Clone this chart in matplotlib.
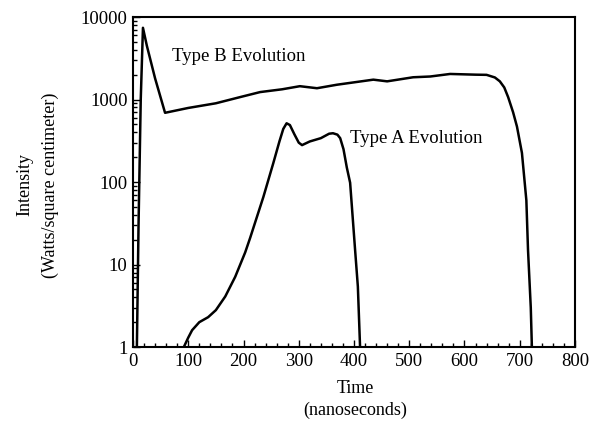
import matplotlib.pyplot as plt
from matplotlib.ticker import LogLocator, MultipleLocator, FixedLocator, NullFormatter

plt.rcParams["font.family"] = ["Liberation Serif", "DejaVu Serif"]

# Type B evolution (ns, W/cm^2)
type_b_t = [7, 10, 14, 18, 25, 40, 58, 100, 150, 194, 230, 270, 302, 333, 369,
            435, 460, 507, 538, 574, 620, 640, 655, 664, 672, 679, 688, 695, 704, 712, 715, 720, 722]
type_b_i = [1, 30, 1000, 7400, 4500, 1800, 690, 790, 900, 1070, 1230, 1330, 1450, 1370, 1510,
            1740, 1660, 1860, 1900, 2040, 2000, 1990, 1850, 1660, 1400, 1070, 700, 470, 225, 60, 15, 3, 1]

# Type A evolution
type_a_t = [92, 100, 107, 120, 136, 150, 167, 185, 203, 212, 236, 254, 265, 272, 278, 284, 292, 300, 306, 320,
            340, 355, 362, 370, 375, 381, 387, 393, 402, 407, 411]
type_a_i = [1, 1.3, 1.6, 2.0, 2.3, 2.8, 4.1, 7.1, 14, 21, 66, 170, 310, 440, 515, 490, 380, 300, 280, 310,
            340, 385, 390, 375, 340, 250, 150, 98, 15, 5.4, 1]

x_ticks = [0, 100, 200, 300, 400, 500, 600, 700, 800]
y_ticks = [1, 10, 100, 1000, 10000]
y_tick_labels = ["1", "10", "100", "1000", "10000"]

fig = plt.figure(figsize=(5.93, 4.25), dpi=100)
ax = fig.add_axes([0.2243, 0.1835, 0.7453, 0.7765])

ax.plot(type_b_t, type_b_i, color="black", lw=1.8)
ax.plot(type_a_t, type_a_i, color="black", lw=1.8)

ax.set_yscale("log")
ax.set_xlim(0, 800)
ax.set_ylim(1, 10000)

ax.xaxis.set_major_locator(FixedLocator(x_ticks))
ax.xaxis.set_minor_locator(MultipleLocator(20))
ax.yaxis.set_major_locator(FixedLocator(y_ticks))
ax.set_yticklabels(y_tick_labels)
ax.yaxis.set_minor_locator(LogLocator(base=10, subs=range(2, 10)))
ax.yaxis.set_minor_formatter(NullFormatter())

ax.tick_params(which="both", direction="in", top=False, right=False,
               labelsize=13.5, width=1)
ax.tick_params(which="major", length=5, pad=4)
ax.tick_params(which="minor", length=3)
for s in ax.spines.values():
    s.set_linewidth(1.5)

ax.text(70, 2900, "Type B Evolution", fontsize=13.5)
ax.text(393, 300, "Type A Evolution", fontsize=13.5)

fig.text(0.5987, 0.085, "Time", ha="center", va="center", fontsize=13)
fig.text(0.5987, 0.035, "(nanoseconds)", ha="center", va="center", fontsize=13)
fig.text(0.042, 0.565, "Intensity", ha="center", va="center", rotation=90, fontsize=13)
fig.text(0.085, 0.565, "(Watts/square centimeter)", ha="center", va="center",
         rotation=90, fontsize=13)

fig.savefig("out.png", dpi=100)
